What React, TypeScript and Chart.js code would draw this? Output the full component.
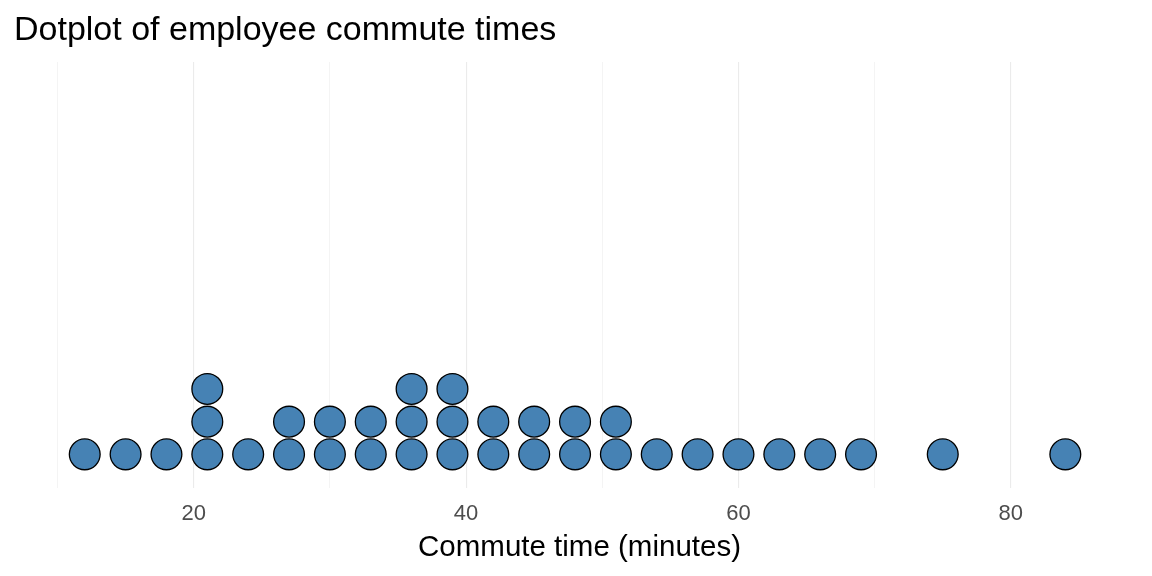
import { useEffect, useRef } from 'react';
import { Chart, registerables } from 'chart.js';

Chart.register(...registerables);

const commuteMinutes = [12, 15, 18, 21, 24, 27, 30, 33, 36, 39, 42, 45, 48, 51, 54, 57, 60, 63, 66, 69, 75, 84];
const employeeCounts = [1, 1, 1, 3, 1, 2, 2, 2, 3, 3, 2, 2, 2, 2, 1, 1, 1, 1, 1, 1, 1, 1];
const labeledTicks = [20, 40, 60, 80];
const chartTitle = 'Dotplot of employee commute times';
const xAxisTitle = 'Commute time (minutes)';

const FONT = '"Liberation Sans", Arial, sans-serif';

export default function App() {
  const canvasRef = useRef<HTMLCanvasElement | null>(null);

  useEffect(() => {
    if (!canvasRef.current) return;
    const points: { x: number; y: number }[] = [];
    commuteMinutes.forEach((v, i) => {
      for (let k = 1; k <= employeeCounts[i]; k++) points.push({ x: v, y: k });
    });

    const chart = new Chart(canvasRef.current, {
      type: 'scatter',
      data: {
        datasets: [
          {
            data: points,
            pointRadius: 15.4,
            pointHoverRadius: 15.4,
            pointBorderWidth: 1.3,
            pointBorderColor: '#000000',
            pointBackgroundColor: '#4682B4',
            clip: false as any,
          },
        ],
      },
      options: {
        animation: false,
        responsive: true,
        maintainAspectRatio: false,
        layout: { autoPadding: false, padding: { left: 14, right: 7, top: 0, bottom: 0 } },
        plugins: {
          legend: { display: false },
          tooltip: { enabled: false },
          title: {
            display: true,
            text: chartTitle,
            align: 'start',
            color: '#000000',
            font: { family: FONT, size: 34, weight: 'normal' },
            padding: { top: 10.6, bottom: 10.6 },
          },
        },
        scales: {
          x: {
            type: 'linear',
            min: 6.806,
            max: 89.85,
            border: { display: false },
            grid: {
              color: '#EBEBEB',
              lineWidth: (ctx: any) => (ctx.tick && ctx.tick.value % 20 === 0 ? 1.1 : 0.55),
              drawTicks: false,
            },
            ticks: {
              stepSize: 10,
              includeBounds: false,
              padding: 13,
              color: '#4D4D4D',
              font: { family: FONT, size: 22 },
              maxRotation: 0,
              autoSkip: false,
              callback: (v: any) => (labeledTicks.includes(Number(v)) ? String(v) : ''),
            },
            title: {
              display: true,
              text: xAxisTitle,
              color: '#000000',
              font: { family: FONT, size: 29.5 },
              padding: { top: 4, bottom: 10.6 },
            },
            afterFit: (s: any) => {
              s.height = 88;
              s.paddingLeft = 0;
              s.paddingRight = 0;
            },
          },
          y: {
            type: 'linear',
            display: false,
            min: -0.03,
            max: 13.0,
          },
        },
      },
    });
    return () => chart.destroy();
  }, []);

  return (
    <div
      style={{
        position: 'fixed',
        left: 0,
        top: 0,
        width: 1152,
        height: 576,
        overflow: 'hidden',
        background: '#ffffff',
      }}
    >
      <canvas ref={canvasRef} style={{ display: 'block' }} />
    </div>
  );
}
